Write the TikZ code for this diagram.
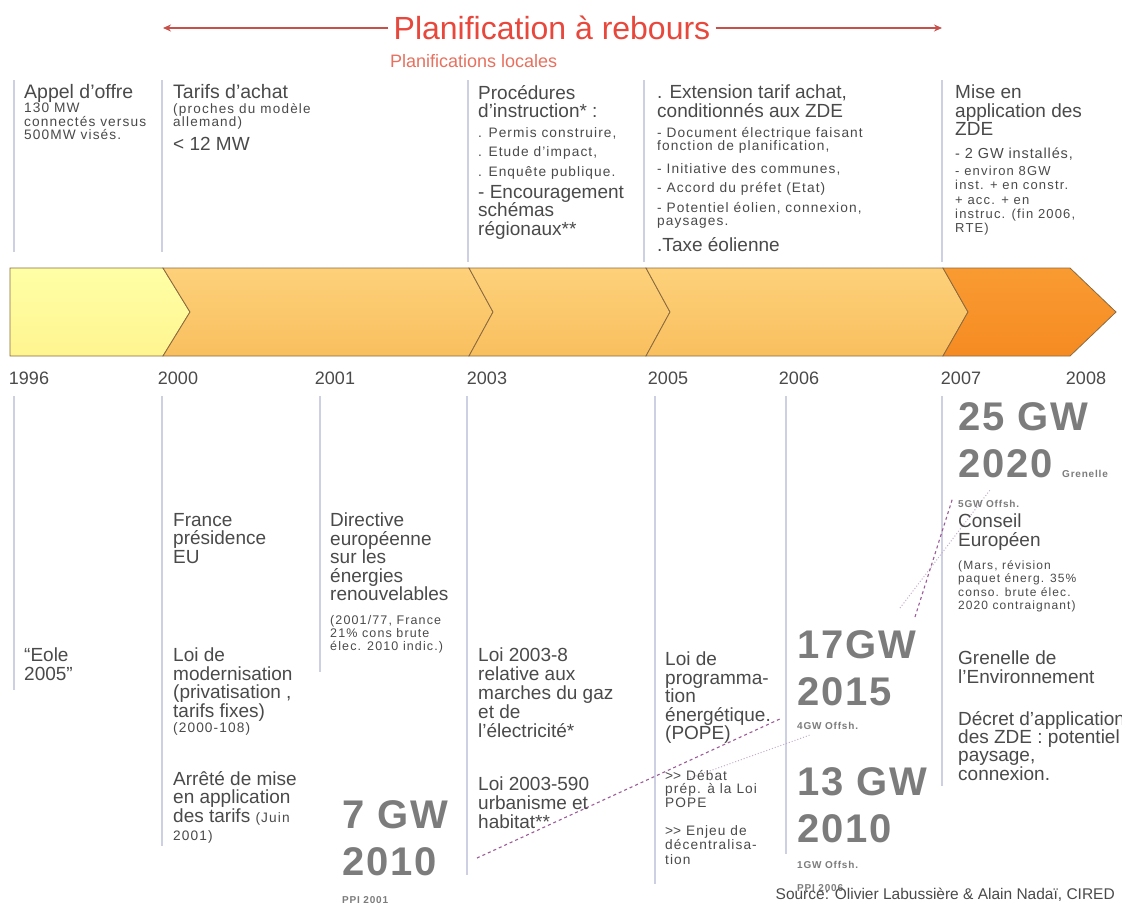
\documentclass[tikz,border=0pt]{standalone}
\usepackage{fontspec}
\setmainfont{Liberation Sans}
\usetikzlibrary{arrows.meta}
\definecolor{txt}{HTML}{4A4A4A}
\definecolor{biggray}{HTML}{7C7C7C}
\definecolor{titlered}{HTML}{E8473C}
\definecolor{subred}{HTML}{E8705E}
\definecolor{arrred}{HTML}{C8504A}
\definecolor{vline}{HTML}{CDCFE2}
\definecolor{barline}{HTML}{8A6A40}
\definecolor{trend}{HTML}{9C5C98}
\definecolor{trendlight}{HTML}{C4AECB}
\definecolor{yelTop}{HTML}{FFFFA6}
\definecolor{yelBot}{HTML}{FFF590}
\definecolor{midTop}{HTML}{FDD17A}
\definecolor{midBot}{HTML}{F9BF5E}
\definecolor{endTop}{HTML}{F99B32}
\definecolor{endBot}{HTML}{F58B22}
\newcommand\ftMain{\fontsize{19}{18.5}\selectfont}
\newcommand\ftSmall{\fontsize{13.7}{13.5}\selectfont\addfontfeature{LetterSpace=8}}
\newcommand\ftTiny{\fontsize{10}{11}\selectfont\bfseries\addfontfeature{LetterSpace=8}}
\newcommand\ftBig{\fontsize{40}{47}\selectfont\bfseries\addfontfeature{LetterSpace=5}}
\begin{document}
\begin{tikzpicture}[x=1pt,y=-1pt,
  tx/.style={anchor=north west, inner sep=0pt, align=left, text=txt},
  bigtx/.style={anchor=north west, inner sep=0pt, align=left, text=biggray, font=\ftBig},
  tinytx/.style={anchor=north west, inner sep=0pt, align=left, text=biggray, font=\ftTiny},
  sep/.style={draw=vline, line width=1.2pt},
  redarr/.style={draw=arrred, line width=1.1pt, -{Stealth[length=8pt,width=7pt]}},
  segyel/.style={draw=barline, line width=0.8pt, top color=yelTop, bottom color=yelBot},
  segmid/.style={draw=barline, line width=0.8pt, top color=midTop, bottom color=midBot},
  segend/.style={draw=barline, line width=0.8pt, top color=endTop, bottom color=endBot},
  yr/.style={inner sep=0pt, text=txt, font=\fontsize{18}{18}\selectfont},
  trendline/.style={draw=trend, line width=1.1pt, dashed},
  trendlt/.style={draw=trendlight, line width=1pt, dotted}
]
\useasboundingbox[fill=white] (0,0) rectangle (1122,905);

% ---- title ----
\node[font=\fontsize{32}{32}\selectfont, text=titlered, inner sep=5pt] (title) at (552,28) {Planification à rebours};
\coordinate (la) at (163,28);
\coordinate (ra) at (942,28);
\draw[redarr] (title.west) -- (la);
\draw[redarr] (title.east) -- (ra);
\node[anchor=west, inner sep=0pt, text=subred, font=\fontsize{18}{18}\selectfont] (sub) at (390,61) {Planifications locales};

% ---- upper separators ----
\draw[sep] (14,80) -- (14,252);
\draw[sep] (162,80) -- (162,252);
\draw[sep] (468,80) -- (468,262);
\draw[sep] (644,80) -- (644,262);
\draw[sep] (942,80) -- (942,262);

% ---- upper texts ----
\node[tx, font=\fontsize{19.5}{18.5}\selectfont] (u1a) at (24,84) {Appel d'offre};
\node[tx, font=\ftSmall] (u1b) at (24,103) {130 MW\\connectés versus\\500MW visés.};

\node[tx, font=\fontsize{19.5}{18.5}\selectfont] (u2a) at (173,84) {Tarifs d'achat};
\node[tx, font=\fontsize{13.5}{12.5}\selectfont\addfontfeature{LetterSpace=9}] (u2b) at (173,103) {(proches du modèle\\allemand)};
\node[tx, font=\ftMain] (u2c) at (173,137) {< 12 MW};

\node[tx, font=\ftMain] (u3a) at (478,85) {Procédures\\d'instruction* :};
\node[tx, font=\fontsize{13.7}{19.5}\selectfont\addfontfeature{LetterSpace=8}] (u3b) at (478,127) {. Permis construire,\\. Etude d'impact,\\. Enquête publique.};
\node[tx, font=\ftMain] (u3c) at (478,185) {- Encouragement\\schémas\\régionaux**};

\node[tx, font=\ftMain] (u4a) at (657,85) {. Extension tarif achat,\\conditionnés aux ZDE};
\node[tx, font=\ftSmall] (u4b) at (657,127) {- Document électrique faisant\\fonction de planification,};
\node[tx, font=\ftSmall] (u4c) at (657,163) {- Initiative des communes,};
\node[tx, font=\ftSmall] (u4d) at (657,182) {- Accord du préfet (Etat)};
\node[tx, font=\ftSmall] (u4e) at (657,202) {- Potentiel éolien, connexion,\\paysages.};
\node[tx, font=\ftMain] (u4f) at (657,237) {.Taxe éolienne};

\node[tx, font=\ftMain] (u5a) at (955,85) {Mise en\\application des\\ZDE};
\node[tx, font=\fontsize{14.5}{14}\selectfont\addfontfeature{LetterSpace=6}] (u5b) at (955,148) {- 2 GW installés,};
\node[tx, font=\fontsize{13}{14.3}\selectfont\addfontfeature{LetterSpace=9}] (u5c) at (955,166) {- environ 8GW\\inst. + en constr.\\+ acc. + en\\instruc. (fin 2006,\\RTE)};

% ---- bar ----
\path[segyel] (10,268) -- (163,268) -- (190,312) -- (163,356) -- (10,356) -- cycle;
\path[segmid] (163,268) -- (469,268) -- (493,312) -- (469,356) -- (163,356) -- (190,312) -- cycle;
\path[segmid] (469,268) -- (646,268) -- (670,312) -- (646,356) -- (469,356) -- (493,312) -- cycle;
\path[segmid] (646,268) -- (943,268) -- (968,312) -- (943,356) -- (646,356) -- (670,312) -- cycle;
\path[segend] (943,268) -- (1070,268) -- (1116,312) -- (1070,356) -- (943,356) -- (968,312) -- cycle;

% ---- years ----
\node[yr] (y1996) at (29,378) {1996};
\node[yr] (y2000) at (178,378) {2000};
\node[yr] (y2001) at (335,378) {2001};
\node[yr] (y2003) at (487,378) {2003};
\node[yr] (y2005) at (668,378) {2005};
\node[yr] (y2006) at (799,378) {2006};
\node[yr] (y2007) at (961,378) {2007};
\node[yr] (y2008) at (1086,378) {2008};

% ---- lower separators ----
\draw[sep] (14,396) -- (14,690);
\draw[sep] (162,396) -- (162,846);
\draw[sep] (320,396) -- (320,672);
\draw[sep] (467,396) -- (467,875);
\draw[sep] (655,396) -- (655,884);
\draw[sep] (786,396) -- (786,854);
\draw[sep] (942,396) -- (942,786);

% ---- trend lines ----
\coordinate (d1s) at (477,858);
\coordinate (d1e) at (782,718);
\coordinate (d2s) at (690,778);
\coordinate (d2e) at (810,735);
\coordinate (d3s) at (915,617);
\coordinate (d3e) at (953,497);
\coordinate (d4s) at (900,608);
\coordinate (d4e) at (990,490);
\draw[trendlt] (d2s) -- (d2e);
\draw[trendlt] (d4s) -- (d4e);
\draw[trendline] (d1s) -- (d1e);
\draw[trendline] (d3s) -- (d3e);

% ---- lower texts ----
\node[tx, font=\ftMain] (l1) at (24,648) {``Eole\\2005''};

\node[tx, font=\ftMain] (l2a) at (173,513) {France\\présidence\\EU};
\node[tx, font=\ftMain] (l2b) at (173,648) {Loi de\\modernisation\\(privatisation ,\\tarifs fixes)};
\node[tx, font=\ftSmall] (l2c) at (173,722) {(2000-108)};
\node[tx, font=\ftMain] (l2d) at (173,771) {Arrêté de mise\\en application\\des tarifs {\ftSmall(Juin}\\{\ftSmall 2001)}};

\node[tx, font=\ftMain] (l3a) at (330,513) {Directive\\européenne\\sur les\\énergies\\renouvelables};
\node[tx, font=\fontsize{12.5}{13}\selectfont\addfontfeature{LetterSpace=9}] (l3b) at (330,615) {(2001/77, France\\21\% cons brute\\élec. 2010 indic.)};
\node[bigtx] (l3c) at (342,800) {7 GW\\2010};
\node[tinytx] (l3d) at (342,896) {PPI 2001};

\node[tx, font=\fontsize{19}{19}\selectfont] (l4a) at (478,648) {Loi 2003-8\\relative aux\\marches du gaz\\et de\\l'électricité*};
\node[tx, font=\fontsize{19}{19}\selectfont] (l4b) at (478,777) {Loi 2003-590\\urbanisme et\\habitat**};

\node[tx, font=\ftMain] (l5a) at (665,652) {Loi de\\programma-\\tion\\énergétique.\\(POPE)};
\node[tx, font=\ftSmall] (l5b) at (665,770) {>\kern0pt> Débat\\prép. à la Loi\\POPE};
\node[tx, font=\fontsize{13.7}{14.5}\selectfont\addfontfeature{LetterSpace=8}] (l5c) at (665,825) {>\kern0pt> Enjeu de\\décentralisa-\\tion};

\node[bigtx] (l6a) at (797,630) {17GW\\2015};
\node[tinytx] (l6b) at (797,722) {4GW Offsh.};
\node[bigtx] (l6c) at (797,767) {13 GW\\2010};
\node[tinytx] (l6d) at (797,861) {1GW Offsh.};
\node[tinytx] (l6e) at (797,884) {PPI 2006};

\node[bigtx] (l7a) at (958,402) {25 GW\\2020};
\node[tinytx, anchor=base west] (l7g) at (1062,477) {Grenelle};
\node[tinytx] (l7b) at (958,500) {5GW Offsh.};
\node[tx, font=\ftMain] (l7c) at (958,514) {Conseil\\Européen};
\node[tx, font=\fontsize{12}{13.5}\selectfont\addfontfeature{LetterSpace=9}] (l7d) at (958,560) {(Mars, révision\\paquet énerg. 35\%\\conso. brute élec.\\2020 contraignant)};
\node[tx, font=\ftMain] (l7e) at (958,651) {Grenelle de\\l'Environnement};
\node[tx, font=\fontsize{19}{17.7}\selectfont] (l7f) at (958,711) {Décret d'application\\des ZDE : potentiel\\paysage,\\connexion.};

% ---- source ----
\node[anchor=base east, inner sep=0pt, text=txt, font=\fontsize{15.5}{16}\selectfont] (src) at (1115,899) {Source: Olivier Labussière \& Alain Nadaï, CIRED};
\end{tikzpicture}
\end{document}
